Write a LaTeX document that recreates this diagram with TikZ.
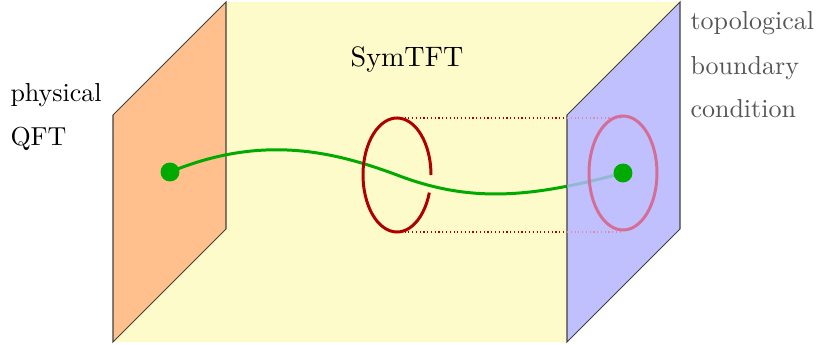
\documentclass[tikz,border=0pt]{standalone}
\definecolor{yel}{RGB}{253,251,202}
\definecolor{ora}{RGB}{255,192,142}
\definecolor{blu}{RGB}{192,192,255}
\definecolor{grn}{RGB}{0,170,0}
\definecolor{dred}{RGB}{175,0,0}
\definecolor{pinkish}{RGB}{212,110,150}
\definecolor{lblue}{RGB}{145,185,210}
\definecolor{tgray}{RGB}{85,85,85}
\tikzset{
  plane/.style={draw=black!75, line width=0.4pt, line join=miter},
  wire/.style={line width=1.15pt},
  loopline/.style={line width=1.15pt},
  guide/.style={densely dotted, line width=0.45pt},
  dot/.style={circle, fill=grn, draw=none, minimum size=7.3pt, inner sep=0pt},
  lab/.style={inner sep=0pt, anchor=base west}
}
\begin{document}
\begin{tikzpicture}[x=0.3846pt, y=-0.3846pt]
\useasboundingbox (0,0) rectangle (819,345);
% bulk
\fill[yel] (226,2) -- (680,2) -- (680,229) -- (567,342) -- (113,342) -- (113,115) -- cycle;
% left boundary
\filldraw[plane, fill=ora] (113,115) -- (226,2) -- (226,229) -- (113,342) -- cycle;
% dots
\node[dot] (L) at (170,172) {};
\node[dot] (R) at (623,173) {};
\coordinate (E) at (397,175);
% line operator
\draw[wire, grn] (L.center) .. controls (260,135) and (330,150) .. (E) .. controls (470,203) and (530,198) .. (R.center);
% linking loop with gap
\draw[loopline, dred] (E) ++(18:34 and 57) arc[start angle=18, end angle=360, x radius=34, y radius=57];
% guides
\coordinate (T1) at (397,118);
\coordinate (T2) at (567,118);
\coordinate (T3) at (623,118);
\coordinate (B1) at (397,232);
\coordinate (B2) at (567,232);
\coordinate (B3) at (623,232);
\draw[guide, dred] (T1) -- (T2);
\draw[guide, dred] (B1) -- (B2);
% right boundary
\filldraw[plane, fill=blu] (567,115) -- (680,2) -- (680,229) -- (567,342) -- cycle;
\draw[guide, pinkish!80] (T2) -- (T3);
\draw[guide, pinkish!80] (B2) -- (B3);
\begin{scope}
\clip (567.3,0) rectangle (679.7,345);
\draw[wire, lblue] (L.center) .. controls (260,135) and (330,150) .. (E) .. controls (470,203) and (530,198) .. (R.center);
\end{scope}
\draw[loopline, pinkish] (R.center) ellipse[x radius=34, y radius=57];
\node[dot] at (R) {};
% labels
\node[lab] (phys) at (10,102) {physical};
\node[lab] (qft) at (10,146) {QFT};
\node[inner sep=0pt, anchor=base, font=\fontsize{10.8}{13}\selectfont] (sym) at (407,67) {SymTFT};
\node[lab, text=tgray] (t1) at (690,30) {topological};
\node[lab, text=tgray] (t2) at (690,75) {boundary};
\node[lab, text=tgray] (t3) at (690,118) {condition};
\end{tikzpicture}
\end{document}
